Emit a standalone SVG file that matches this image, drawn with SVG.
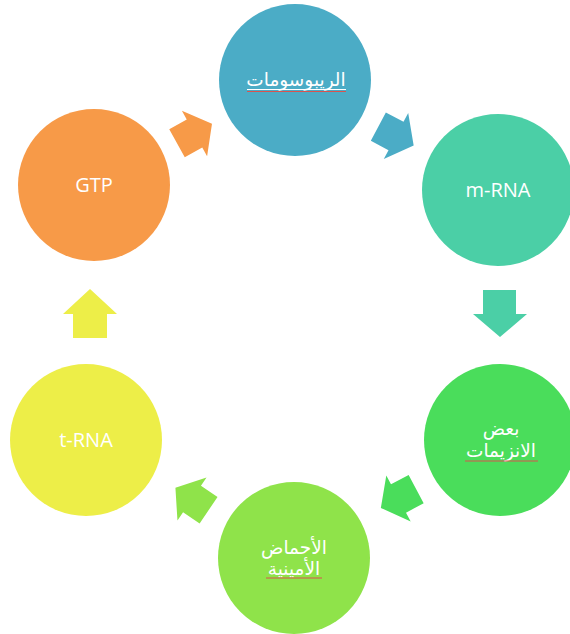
<svg xmlns="http://www.w3.org/2000/svg" width="570" height="634" viewBox="0 0 570 634">
<style>
.lbl{fill:#fff;font-family:"Open Sans","DejaVu Sans",sans-serif;font-size:20px;text-anchor:middle}
.ar{fill:#fff;font-family:"DejaVu Sans","Noto Sans",sans-serif;font-size:18.5px;text-anchor:middle}
.ul{stroke:#fff;stroke-width:1}
.sp{stroke:#d9534f;stroke-width:1}
</style>
<defs>
<polygon id="arr" points="-20,-16 0,-16 0,-26 20,0 0,26 0,16 -20,16"/>
</defs>
<rect width="570" height="634" fill="#fff"/>
<g id="connectors">
<use href="#arr" fill="#4BACC6" transform="translate(396,136) rotate(28)"/>
<polygon fill="#4BCFA6" points="483,290 516,290 516,314 527,314 500,337 473,314 483,314"/>
<use href="#arr" fill="#4ADD5B" transform="translate(398.5,498.5) rotate(152)"/>
<use href="#arr" fill="#8FE34A" transform="translate(192,499) rotate(214)"/>
<polygon fill="#EDEE48" points="73,338 107,338 107,314 117,314 90,289 63,314 73,314"/>
<use href="#arr" fill="#F79A48" transform="translate(194.5,133.5) rotate(-29)"/>
</g>
<g id="ribosomes">
<circle cx="295" cy="80" r="76" fill="#4BACC6"/>
<text class="ar" x="296" y="86" direction="rtl">الريبوسومات</text>
<line class="ul" x1="247" y1="89.5" x2="346" y2="89.5"/>
<line class="sp" x1="247" y1="91.5" x2="346" y2="91.5"/>
</g>
<g id="mrna">
<circle cx="498" cy="190" r="76" fill="#4BCFA6"/>
<text class="lbl" x="498" y="197">m-RNA</text>
</g>
<g id="enzymes">
<circle cx="500" cy="440" r="76" fill="#4ADD5B"/>
<text class="ar" x="501" y="435" direction="rtl">بعض</text>
<text class="ar" x="501" y="457" direction="rtl">الانزيمات</text>
<line class="sp" x1="465" y1="461" x2="538" y2="461"/>
</g>
<g id="aminoacids">
<circle cx="294" cy="558" r="76" fill="#8FE34A"/>
<text class="ar" x="294" y="554" direction="rtl">الأحماض</text>
<text class="ar" x="294" y="575" direction="rtl">الأمينية</text>
<line class="sp" x1="266" y1="578" x2="322" y2="578"/>
</g>
<g id="trna">
<circle cx="86" cy="440" r="76" fill="#EDEE48"/>
<text class="lbl" x="86" y="447">t-RNA</text>
</g>
<g id="gtp">
<circle cx="94" cy="185" r="76" fill="#F79A48"/>
<text class="lbl" x="94" y="192">GTP</text>
</g>
</svg>
